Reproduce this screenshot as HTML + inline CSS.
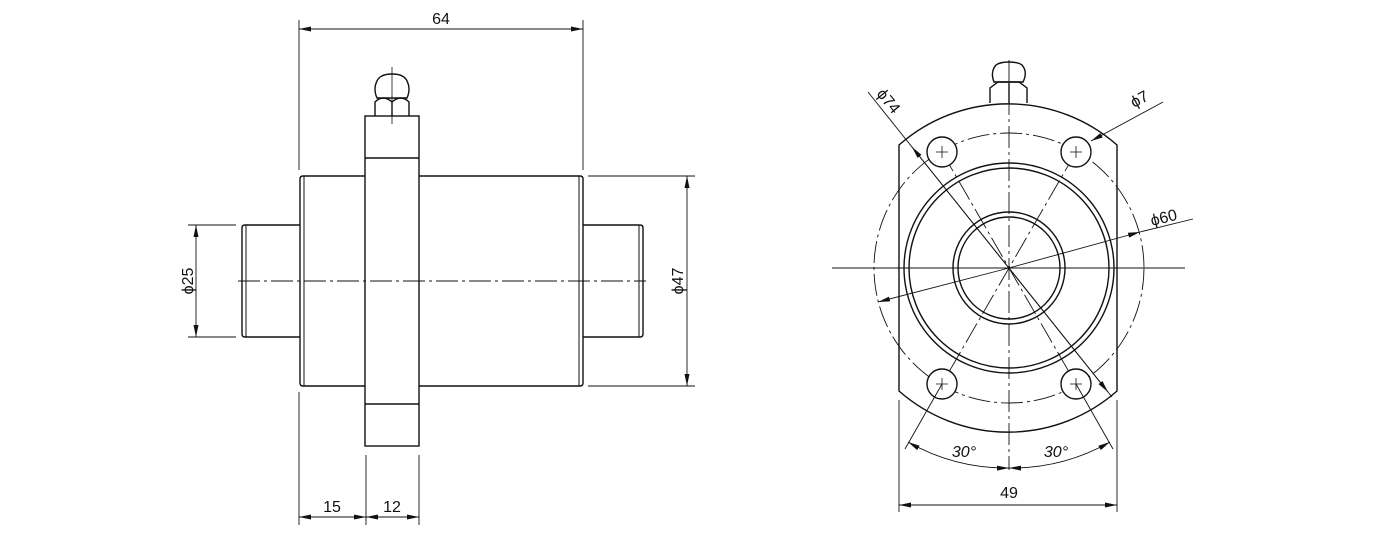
<!DOCTYPE html>
<html><head><meta charset="utf-8"><style>
html,body{margin:0;padding:0;background:#fff;}
svg{display:block}
text{font-family:"Liberation Sans",sans-serif;font-size:16px;fill:#111}
</style></head><body>
<svg width="1395" height="536" viewBox="0 0 1395 536" xmlns="http://www.w3.org/2000/svg">
<defs>
<marker id="a" viewBox="0 0 12 6" refX="12" refY="3" markerWidth="12" markerHeight="6" orient="auto-start-reverse" markerUnits="userSpaceOnUse"><path d="M0,0.5 L12,3 L0,5.5z" fill="#111"/></marker>
</defs>
<g fill="none" stroke="#111" stroke-width="1.4">
<path d="M303,176 H580 Q583,176 583,179 V383 Q583,386 580,386 H303 Q300,386 300,383 V179 Q300,176 303,176 Z"/>
<line x1="304" y1="176" x2="304" y2="386" stroke-width="1"/>
<line x1="579" y1="176" x2="579" y2="386" stroke-width="1"/>
<path d="M300,225 H245 Q242,225 242,228 V334 Q242,337 245,337 H300"/>
<line x1="246" y1="225" x2="246" y2="337" stroke-width="1"/>
<path d="M583,225 H640 Q643,225 643,228 V334 Q643,337 640,337 H583"/>
<line x1="639" y1="225" x2="639" y2="337" stroke-width="1"/>
<rect x="365" y="116" width="54" height="330" fill="#fff"/>
<line x1="365" y1="158" x2="419" y2="158"/>
<line x1="365" y1="404" x2="419" y2="404"/>
<path d="M375,116 V102 Q383,94 392,102 Q401,94 409,102 V116"/>
<line x1="392" y1="102" x2="392" y2="116"/>
<path d="M377,98 Q373,89 377,81 Q380,74 392,74 Q404,74 407,81 Q411,89 407,98 Z"/>
<line x1="392" y1="67" x2="392" y2="124" stroke-width="0.8"/>
<line x1="238" y1="281" x2="646" y2="281" stroke-width="0.9" stroke-dasharray="22,4,3,4"/>
<g stroke-width="0.9">
<line x1="299" y1="20" x2="299" y2="170"/>
<line x1="583" y1="20" x2="583" y2="170"/>
<line x1="299" y1="29" x2="583" y2="29" marker-start="url(#a)" marker-end="url(#a)"/>
<line x1="188" y1="225" x2="236" y2="225"/>
<line x1="188" y1="337" x2="236" y2="337"/>
<line x1="196" y1="225" x2="196" y2="337" marker-start="url(#a)" marker-end="url(#a)"/>
<line x1="588" y1="176" x2="695" y2="176"/>
<line x1="588" y1="386" x2="695" y2="386"/>
<line x1="687" y1="176" x2="687" y2="386" marker-start="url(#a)" marker-end="url(#a)"/>
<line x1="299" y1="392" x2="299" y2="525"/>
<line x1="366" y1="455" x2="366" y2="525"/>
<line x1="419" y1="455" x2="419" y2="525"/>
<line x1="299" y1="517" x2="366" y2="517" marker-start="url(#a)" marker-end="url(#a)"/>
<line x1="366" y1="517" x2="419" y2="517" marker-start="url(#a)" marker-end="url(#a)"/>
</g>
<path d="M899,145 A165,165 0 0 1 1117,145 V391 A165,165 0 0 1 899,391 Z"/>
<g stroke-width="0.9" stroke-dasharray="22,4,3,4">
<circle cx="1009" cy="268" r="135"/>
<line x1="832" y1="268" x2="1185" y2="268" stroke-dasharray="none"/>
<line x1="1009" y1="60" x2="1009" y2="470"/>
<line x1="942" y1="152" x2="1076" y2="384"/>
<line x1="1076" y1="152" x2="942" y2="384"/>
</g>
<circle cx="1009" cy="268" r="105"/>
<circle cx="1009" cy="268" r="100"/>
<circle cx="1009" cy="268" r="56"/>
<circle cx="1009" cy="268" r="51"/>
<g fill="#fff">
<circle cx="942" cy="152" r="15"/><circle cx="1076" cy="152" r="15"/>
<circle cx="942" cy="384" r="15"/><circle cx="1076" cy="384" r="15"/>
</g>
<g stroke-width="0.8">
<path d="M936,152h12M942,146v12M1070,152h12M1076,146v12M936,384h12M942,378v12M1070,384h12M1076,378v12"/>
</g>
<path d="M990,103 V88 L998,82 H1019 L1027,88 V103"/>
<line x1="1009" y1="83" x2="1009" y2="103"/>
<path d="M994,82 Q990,72 996,65 Q1000,62 1009,62 Q1018,62 1022,65 Q1028,72 1023,82 Z"/>
<g stroke-width="0.9">
<line x1="868" y1="92" x2="1112" y2="397"/>
<line x1="1009" y1="268" x2="912" y2="147" marker-end="url(#a)"/>
<line x1="1009" y1="268" x2="1108" y2="392" marker-end="url(#a)"/>
<line x1="1163" y1="102" x2="1091" y2="141" marker-end="url(#a)"/>
<line x1="1193" y1="219" x2="1140" y2="232"/>
<line x1="1009" y1="268" x2="1140" y2="232" marker-end="url(#a)"/>
<line x1="1009" y1="268" x2="878" y2="302" marker-end="url(#a)"/>
<line x1="1076" y1="384" x2="1113" y2="449"/>
<line x1="942" y1="384" x2="905" y2="449"/>
<path d="M908,442 A200,200 0 0 0 1009,468" marker-start="url(#a)" marker-end="url(#a)"/>
<path d="M1110,442 A200,200 0 0 1 1009,468" marker-start="url(#a)" marker-end="url(#a)"/>
<line x1="899" y1="400" x2="899" y2="512"/>
<line x1="1117" y1="400" x2="1117" y2="512"/>
<line x1="899" y1="505" x2="1117" y2="505" marker-start="url(#a)" marker-end="url(#a)"/>
</g>
</g>
<text x="441" y="24" text-anchor="middle">64</text>
<text transform="translate(193,281) rotate(-90)" text-anchor="middle">ϕ25</text>
<text transform="translate(683,281) rotate(-90)" text-anchor="middle">ϕ47</text>
<text x="332" y="512" text-anchor="middle">15</text>
<text x="392" y="512" text-anchor="middle">12</text>
<text transform="translate(876,94) rotate(51)">ϕ74</text>
<text transform="translate(1134,108) rotate(-28)">ϕ7</text>
<text transform="translate(1152,226) rotate(-14)">ϕ60</text>
<text x="964" y="457" text-anchor="middle" font-style="italic">30°</text>
<text x="1056" y="457" text-anchor="middle" font-style="italic">30°</text>
<text x="1009" y="498" text-anchor="middle">49</text>
</svg>
</body></html>
